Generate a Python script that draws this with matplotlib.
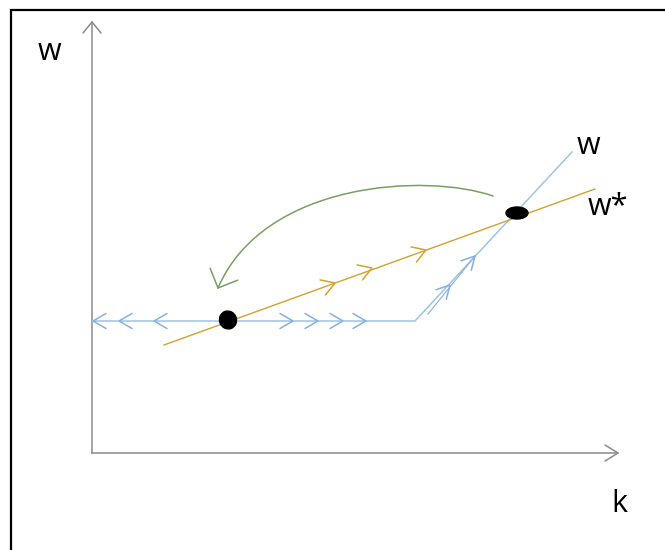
import numpy as np
import matplotlib.pyplot as plt
from matplotlib.patches import Ellipse, FancyArrowPatch, Rectangle
from matplotlib.path import Path

# ---- data (diagram units: k to the right, w upward, origin at axes crossing) ----
axis_k_end = 526
axis_w_end = 431

w_curve_k = [0, 323, 480]          # blue "w" schedule: flat then rising
w_curve_w = [132, 132, 301]

wstar_k = [72, 503]                # gold "w*" line
wstar_w = [108, 264]

steady_k = [136, 425]              # equilibria
steady_w = [133, 240]

left_arrow_k = [1, 27, 62]         # blue arrows pointing left on flat part
right_arrow_k = [201, 226, 251, 274]
up_arrow_k = [358, 383]            # blue arrows on rising part
up_arrow_w = [168, 197]
gold_arrow_k = [243, 280, 334]     # gold arrows along w*
gold_arrow_w = [170, 185, 203]

arc_k = [401, 335, 172, 126]       # green jump (cubic bezier)
arc_w = [257, 280, 272, 165]

BLUE = "#9dc3e6"
BLUE_D = "#85b0df"
GOLD = "#d1a32e"
GREEN = "#7a9f62"
GRAY = "#8c8c8c"

fig = plt.figure(figsize=(6.65, 5.5), dpi=100)
ax = fig.add_axes([0, 0, 1, 1])
ax.set_xlim(-92, 573)
ax.set_ylim(-97, 453)
ax.axis("off")

# frame
ax.add_patch(Rectangle((-81, -200), 800, 643, fill=False, ec="black", lw=1.6))


def chevron(tip, direction, back, spread, color, lw):
    d = np.asarray(direction, float)
    d = d / np.linalg.norm(d)
    p = np.array([-d[1], d[0]])
    t = np.asarray(tip, float)
    a = t - back * d + spread * p
    b = t - back * d - spread * p
    ax.plot([a[0], t[0], b[0]], [a[1], t[1], b[1]], color=color, lw=lw,
            solid_capstyle="round", solid_joinstyle="miter")


# axes
ax.plot([0, 0], [0, axis_w_end], color=GRAY, lw=1.1)
ax.plot([0, axis_k_end], [0, 0], color=GRAY, lw=1.1)
chevron((0, axis_w_end), (0, 1), 11, 9, GRAY, 1.1)
chevron((axis_k_end, 0), (1, 0), 13, 8, GRAY, 1.1)

# lines
ax.plot(w_curve_k, w_curve_w, color=BLUE, lw=1.1)
ax.plot(wstar_k, wstar_w, color=GOLD, lw=1.0)

# arrows on blue
for k in left_arrow_k:
    chevron((k, w_curve_w[0]), (-1, 0), 13, 7.5, BLUE_D, 1.1)
for k in right_arrow_k:
    chevron((k, w_curve_w[0]), (1, 0), 13, 7.5, BLUE_D, 1.1)
diag = (w_curve_k[2] - w_curve_k[1], w_curve_w[2] - w_curve_w[1])
for k, w in zip(up_arrow_k, up_arrow_w):
    chevron((k, w), diag, 13, 7, BLUE_D, 1.1)
# slight doubled stroke on rising part
ax.plot([up_arrow_k[0] - 22, up_arrow_k[1]], [up_arrow_w[0] - 29, up_arrow_w[1]],
        color=BLUE_D, lw=0.8)

# arrows on gold
gdir = (wstar_k[1] - wstar_k[0], wstar_w[1] - wstar_w[0])
for k, w in zip(gold_arrow_k, gold_arrow_w):
    chevron((k, w), gdir, 13, 8, GOLD, 1.1)

# green jump arc
verts = list(zip(arc_k, arc_w))
path = Path(verts, [Path.MOVETO, Path.CURVE4, Path.CURVE4, Path.CURVE4])
ax.add_patch(FancyArrowPatch(path=path, arrowstyle="-", color=GREEN, lw=1.1))
chevron((arc_k[3], arc_w[3]), (arc_k[3] - arc_k[2], arc_w[3] - arc_w[2]), 15, 15, GREEN, 1.1)

# equilibria
ax.add_patch(Ellipse((steady_k[0], steady_w[0]), 17, 18, angle=20, color="black", zorder=5))
ax.add_patch(Ellipse((steady_k[1], steady_w[1]), 22, 12, angle=0, color="black", zorder=5))

# labels
fs = 22
fam = ["Open Sans", "DejaVu Sans"]
ax.text(-43, 401, "w", fontsize=fs, family=fam, ha="center", va="center")
ax.text(527, 453 - 504, "k", fontsize=fs, family=fam, ha="center", va="center")
ax.text(496, 453 - 146, "w", fontsize=fs, family=fam, ha="center", va="center")
ax.text(516, 453 - 207, "w*", fontsize=fs, family=fam, ha="center", va="center")

fig.savefig("out.png", dpi=100)
